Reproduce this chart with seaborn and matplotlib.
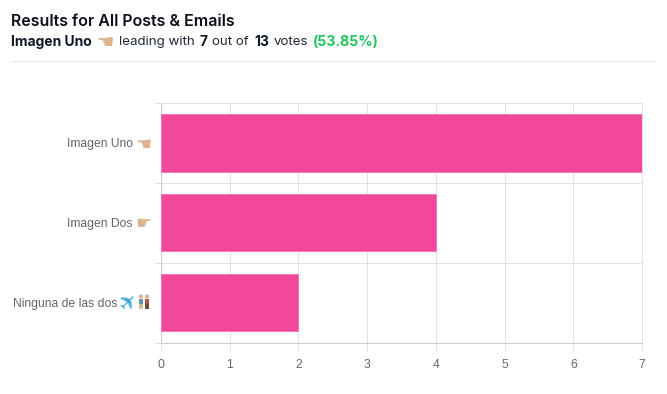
# Poll results horizontal bar chart

import matplotlib
matplotlib.use('Agg')
import matplotlib.pyplot as plt
from matplotlib.patches import Circle, Rectangle
from matplotlib.transforms import IdentityTransform, ScaledTranslation
import pandas as pd
import seaborn as sns

W, H = 667, 394

options = ['Imagen Uno', 'Imagen Dos', 'Ninguna de las dos']
votes = [7, 4, 2]
x_ticks = [0, 1, 2, 3, 4, 5, 6, 7]
hands = ['\u261a', '\u261b', '\u2708']

df = pd.DataFrame({'option': options, 'votes': votes})

sns.set_style('white')
plt.rcParams['font.family'] = ['Liberation Sans', 'DejaVu Sans']

fig = plt.figure(figsize=(W / 100, H / 100), dpi=100, facecolor='white')
ax = fig.add_axes([161 / W, 1 - 342.5 / H, 481 / W, 239.5 / H])

sns.barplot(data=df, x='votes', y='option', orient='h', color='#f2489b', saturation=1,
            width=0.72, edgecolor='#f477b5', linewidth=0.7, ax=ax, zorder=3)

ax.set_xlim(0, 7)
ax.set_ylim(2.5, -0.5)
ax.set_xlabel('')
ax.set_ylabel('')
ax.set_xticks(x_ticks)
ax.set_yticks([-0.5, 0.5, 1.5, 2.5], minor=True)
ax.grid(True, axis='x', color='#e2e2e2', linewidth=0.72, zorder=0)
ax.grid(True, axis='y', which='minor', color='#e2e2e2', linewidth=0.72, zorder=0)
ax.tick_params(axis='x', length=6, width=0.72, color='#e2e2e2', labelsize=8.7, labelcolor='#666666', pad=6, bottom=True)
ax.tick_params(axis='y', which='major', length=0, labelsize=8.7, labelcolor='#666666', pad=20.5)
ax.tick_params(axis='y', which='minor', length=5, width=0.72, color='#e2e2e2', left=True)
for s in ['top', 'right']:
    ax.spines[s].set_color('#e2e2e2')
    ax.spines[s].set_linewidth(0.72)
for s in ['left', 'bottom']:
    ax.spines[s].set_color('#cccccc')
    ax.spines[s].set_linewidth(0.72)

# last label has a wider emoji after it
lab = ax.get_yticklabels()[2]
lab.set_transform(lab.get_transform() + ScaledTranslation(-15 / 100, 0, fig.dpi_scale_trans))

# emoji beside the category labels
for i, g in enumerate(hands[:2]):
    ax.annotate(g, (0, i), xytext=(-7, -1.2), textcoords='offset points', ha='right', va='center',
                fontsize=13, color='#dfb38f', family='DejaVu Sans')
ax.annotate(hands[2], (0, 2), xytext=(-22.5, 0), textcoords='offset points', ha='center', va='center',
            fontsize=16, color='#3fa9dc', family='DejaVu Sans', rotation=45)

# couple emoji, no installed font has it
for px, body, legs in [(141, '#5f93b8', '#d9b99b'), (147, '#b5533c', '#6b4a3a')]:
    fig.add_artist(Circle((px, H - 296.5), 2, facecolor='#dcae8c', edgecolor='none', transform=IdentityTransform()))
    fig.add_artist(Rectangle((px - 2.2, H - 304), 4.4, 5.5, facecolor=body, edgecolor='none', transform=IdentityTransform()))
    fig.add_artist(Rectangle((px - 1.6, H - 309), 3.2, 5, facecolor=legs, edgecolor='none', transform=IdentityTransform()))

# header
dark = '#111827'
fig.text(11 / W, 1 - 21 / H, 'Results for All Posts & Emails', fontsize=11.5, family='Inter',
         weight='semibold', color='#0b0f19', va='center')
parts = [(11, 'Imagen Uno', 'bold', dark, 10), (119, 'leading with', 'normal', '#1f2937', 9.6), (200, '7', 'bold', dark, 10),
         (212.5, 'out of', 'normal', '#1f2937', 9.6), (254, '13', 'bold', dark, 10), (274, 'votes', 'normal', '#1f2937', 9.6),
         (313, '(53.85%)', 'bold', '#22c55e', 10.2)]
for px, txt, wt, col, fs in parts:
    fig.text(px / W, 1 - 42 / H, txt, fontsize=fs, family='Inter', weight=wt, color=col, va='center')
fig.text(96 / W, 1 - 43 / H, hands[0], fontsize=14, family='DejaVu Sans', color='#dfb38f', va='center')
fig.add_artist(plt.Line2D([11 / W, 655 / W], [1 - 60.5 / H] * 2, color='#e5e7eb', linewidth=0.72))

fig.savefig('out.png', dpi=100)
